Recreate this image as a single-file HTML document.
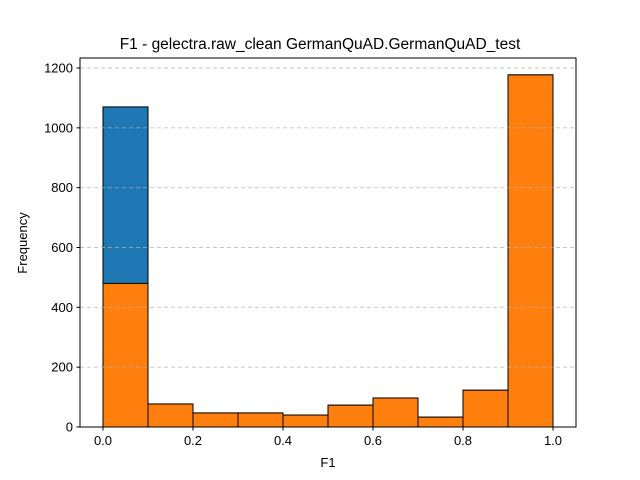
<!DOCTYPE html>
<html><head><meta charset="utf-8"><style>body{margin:0;background:#fff}svg{display:block;font-family:"Liberation Sans","DejaVu Sans",sans-serif}</style></head>
<body>
<svg id="chart" width="640" height="480">
<rect x="0" y="0" width="640" height="480" fill="#fff"/>
<g id="bars"></g>
<g id="grid"></g>
<rect x="80" y="58" width="496" height="369" fill="none" stroke="#000" stroke-width="1"/>
<g id="ticks" font-size="13"></g>
<text x="320" y="49" text-anchor="middle" font-size="15.5">F1 - gelectra.raw_clean GermanQuAD.GermanQuAD_test</text>
<text x="328" y="467" text-anchor="middle" font-size="13">F1</text>
<text transform="translate(27,243) rotate(-90)" text-anchor="middle" font-size="13">Frequency</text>
</svg>
<script>
const binEdges = [0,0.1,0.2,0.3,0.4,0.5,0.6,0.7,0.8,0.9,1.0];
const blueCounts = [1070,77,47,47,40,73,97,33,123,1177];
const orangeCounts = [480,77,47,47,40,73,97,33,123,1177];
const xTicks = [0,0.2,0.4,0.6,0.8,1.0];
const xTickLabels = ["0.0","0.2","0.4","0.6","0.8","1.0"];
const yTicks = [0,200,400,600,800,1000,1200];

const NS="http://www.w3.org/2000/svg";
const xS=v=>103+v*450;
const yS=v=>427-v*359/1200;
function mk(tag,attrs,parent){const e=document.createElementNS(NS,tag);for(const k in attrs)e.setAttribute(k,attrs[k]);parent.appendChild(e);return e;}
const grid=document.getElementById('grid'),bars=document.getElementById('bars'),ticks=document.getElementById('ticks');
yTicks.forEach(t=>{
  if(t>0){const l=mk('line',{x1:80,x2:576,y1:yS(t),y2:yS(t),stroke:'#b0b0b0','stroke-opacity':0.75,'stroke-dasharray':'4,3','stroke-width':0.9},grid);
  
  }
  const tk=mk('line',{x1:76.5,x2:80,y1:yS(t),y2:yS(t),stroke:'#000'},ticks);
  
  
  const tx=mk('text',{x:73,y:yS(t)+4.5,'text-anchor':'end'},ticks);tx.textContent=t;
  
  
});
xTicks.forEach((t,i)=>{
  const tk=mk('line',{x1:xS(t),x2:xS(t),y1:427,y2:430.5,stroke:'#000'},ticks);
  
  
  const tx=mk('text',{x:xS(t),y:445,'text-anchor':'middle'},ticks);tx.textContent=xTickLabels[i];
  
  
});
function drawSeries(counts,color,name){
  counts.forEach((c,i)=>{
    const x0=xS(binEdges[i]),x1=xS(binEdges[i+1]);
    const r=mk('rect',{x:x0,y:yS(c),width:x1-x0,height:427-yS(c),fill:color,stroke:'#000','stroke-width':1},bars);
    
    
  });
}
drawSeries(blueCounts,'#1f77b4','blue');
drawSeries(orangeCounts,'#ff7f0e','orange');
</script>
</body></html>
